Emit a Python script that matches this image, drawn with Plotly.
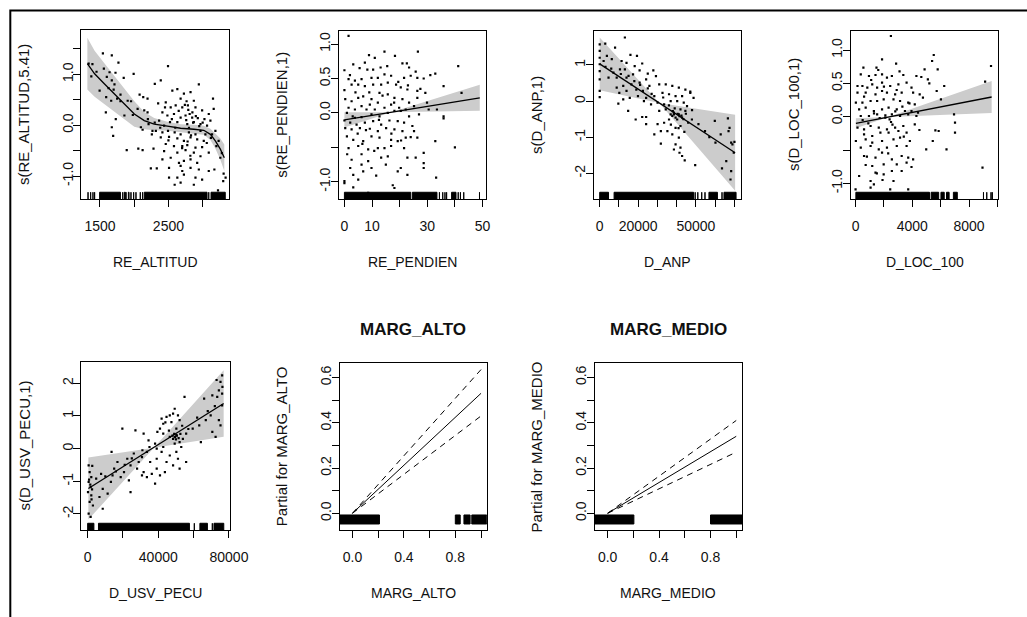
import plotly.graph_objects as go

W, H = 1027, 617

# ---------------- data ----------------
# RE_ALTITUD smooth (edf 5.41)
alt_x = [1543,1673,1770,1335,1374,1557,1640,1727,1992,1847,1673,1712,1495,1625,1591,1664,1751,1799,1905,1954,1586,1731,1673,1693,1857,2079,2132,2195,2147,2195,2098,2123,2210,2267,2258,1891,2060,2123,2282,
         2494,2388,2301,2557,2630,2726,2823,2944,3151,2678,2765,2871,2350,2461,2533,2606,2702,2784,2895,2992,3089,3161,2412,2485,2581,2678,2750,2847,2929,3026,3113,2364,2437,2523,2630,2775,2871,2968,3064,2316,2412,2494,2591,2678,2799,2895,2968,3040,2388,2509,2630,2726,2823,2920,3016,2461,2581,2702,2775,2895,2992,2437,2630,2750,2871,2968,3089,2412,2533,2654,2726,2823,2920,2243,2330,2509,2678,2702,2823,2944,3089,2509,2630,2726,2895,2992,3171,2591,2678,2871,3224,3306,3335,3258,3200,3233,3137,3186,
         2790,2810,2760,2800,2850,2830,2740,2860,2780,2900,2650,2600,2550,2950,3000,2700,2820,2500,2450,2380,2300,2200,2050,1980,1800,1700,1600,1450,1390,3060,3120,3280,3300]
alt_res = [1.41,1.37,1.23,1.21,0.96,1.11,1.04,1.03,1.01,0.93,0.88,0.80,0.68,0.73,0.55,0.48,0.52,0.47,0.48,0.47,0.25,0.12,-0.04,-0.21,0.19,0.60,0.55,0.52,0.29,0.25,-0.04,-0.09,0.02,-0.11,-0.18,-0.49,-0.46,-0.49,-0.46,
           1.16,0.88,0.81,0.68,0.71,0.62,0.65,0.80,0.52,0.52,0.47,0.48,0.43,0.45,0.35,0.39,0.35,0.39,0.35,0.29,0.22,0.32,0.25,0.19,0.22,0.15,0.19,0.15,0.14,0.12,0.09,0.09,-0.01,0.06,0.06,0.02,0.06,0.02,-0.01,-0.11,-0.14,-0.11,-0.14,-0.18,-0.14,-0.18,-0.11,-0.18,-0.24,-0.23,-0.26,-0.31,-0.24,-0.28,-0.31,-0.37,-0.41,-0.41,-0.39,-0.44,-0.43,-0.51,-0.54,-0.49,-0.54,-0.61,-0.54,-0.67,-0.64,-0.74,-0.70,-0.67,-0.74,-0.85,-0.85,-0.84,-0.80,-0.90,-0.84,-0.87,-0.90,-1.03,-1.03,-0.97,-1.03,-1.07,-0.87,-1.17,-1.13,-1.17,-1.28,-0.95,-1.03,-0.64,-0.41,-0.31,-0.18,-0.11,
           0.30,0.22,0.10,-0.05,0.25,-0.20,0.40,0.05,-0.32,0.18,0.28,-0.05,0.12,-0.02,0.05,-0.45,-0.60,-0.30,0.35,-0.05,0.05,0.12,0.32,0.20,0.60,0.70,0.95,1.05,1.20,-0.35,-0.25,-0.55,-1.10]
alt_grid = [1316,1422,1567,1712,1857,2002,2147,2292,2485,2678,2871,3016,3113,3185,3258,3316]
alt_fit = [1.21,1.01,0.81,0.62,0.42,0.22,0.09,0.02,-0.02,-0.06,-0.08,-0.10,-0.18,-0.31,-0.47,-0.64]
alt_upper = [1.72,1.46,1.21,0.97,0.72,0.47,0.26,0.14,0.07,0.02,0.01,-0.01,-0.07,-0.16,-0.26,-0.38]
alt_lower = [0.70,0.56,0.41,0.27,0.12,-0.03,-0.08,-0.10,-0.11,-0.14,-0.17,-0.19,-0.29,-0.46,-0.68,-0.90]
alt_rug = [[1326,1326],[1364,1364],[1398,1398],[1422,1422],[1495,1799],[1833,1833],[1857,1870],[1881,1881],[1915,1925],[1953,1953],[1992,1992],[2026,2026],[2089,2089],[2123,2123],[2147,3064],[3089,3089],[3122,3330]]

# RE_PENDIEN smooth (edf 1)
pend_x = [1.5,14.5,26.6,8.9,18.3,21.0,22.6,7.4,3.2,8.3,10.4,13.1,15.5,23.4,25.8,41.2,32.9,31.1,0.0,1.5,3.8,6.2,9.8,12.1,14.5,16.9,21.6,24.0,26.4,28.7,0.0,2.6,5.0,7.4,10.4,13.3,15.7,18.7,20.4,22.8,26.4,29.3,35.9,42.4,0.3,2.6,5.0,6.8,9.8,12.7,15.7,18.1,21.0,23.4,26.4,29.9,1.5,3.8,6.2,9.2,12.1,14.5,16.9,19.8,22.2,25.2,33.5,0.9,3.8,6.2,9.8,12.7,15.7,18.1,20.4,23.4,27.0,35.9,0.0,2.1,4.4,7.4,10.4,13.3,16.3,19.3,21.6,24.6,35.9,0.3,2.6,5.6,9.2,12.1,15.1,18.1,21.0,25.2,0.9,3.2,6.8,9.8,12.7,16.9,19.3,22.2,26.4,32.9,1.5,5.0,8.6,12.1,14.5,16.9,21.6,28.7,40.0,2.6,6.2,8.6,13.3,15.7,22.8,25.8,2.1,6.2,9.8,28.7,20.4,3.2,6.8,11.5,19.3,22.8,28.7,33.2,0.0,5.0,3.2,17.5,18.1,8.6,0.0,
          4.0,11.0,17.0,7.8,13.8,19.5,2.0,5.5,10.8,24.0,27.5,30.5,1.0,4.8,15.0,11.0,8.0,3.0,18.0,20.5,12.5,23.0,9.0,6.5]
pend_res = [1.12,0.89,0.89,0.84,0.83,0.72,0.72,0.73,0.705,0.63,0.63,0.66,0.68,0.66,0.60,0.68,0.57,0.55,0.62,0.49,0.47,0.49,0.51,0.51,0.56,0.54,0.51,0.54,0.51,0.50,0.33,0.41,0.41,0.39,0.41,0.41,0.44,0.41,0.37,0.34,0.32,0.29,0.39,0.29,0.20,0.17,0.22,0.24,0.20,0.29,0.27,0.22,0.20,0.15,0.22,0.15,0.075,0.05,0.10,0.12,0.15,0.075,0.12,0.075,0.05,0.10,0.05,0.0,-0.07,-0.06,-0.02,-0.05,0.0,0.03,0.03,-0.05,-0.02,-0.05,-0.11,-0.14,-0.17,-0.14,-0.12,-0.17,-0.11,-0.12,-0.14,-0.19,-0.08,-0.22,-0.24,-0.22,-0.23,-0.265,-0.22,-0.24,-0.265,-0.265,-0.34,-0.39,-0.41,-0.34,-0.36,-0.39,-0.41,-0.36,-0.36,-0.41,-0.51,-0.48,-0.53,-0.51,-0.51,-0.48,-0.51,-0.58,-0.50,-0.68,-0.60,-0.70,-0.65,-0.63,-0.65,-0.65,-0.80,-0.75,-0.80,-0.73,-0.80,-0.90,-0.85,-0.91,-0.85,-0.90,-0.80,-0.94,-0.99,-0.97,-1.08,-1.05,-1.09,-1.16,-1.02,
            0.30,0.05,-0.30,-0.25,0.25,0.45,0.55,0.65,-0.55,-0.35,0.35,0.05,-0.60,-0.30,-0.75,0.80,0.05,-0.05,0.15,-0.40,-0.10,0.40,0.30,-0.45]
pend_grid = [0, 17, 49]
pend_fit = [-0.10, 0.01, 0.22]
pend_upper = [0.01, 0.01, 0.41]
pend_lower = [-0.21, 0.01, 0.03]
pend_rug = [[0,24.0],[24.6,33.5],[34.4,34.4],[35.6,35.6],[36.4,36.4],[37.0,37.0],[38.8,40.4],[41.2,41.2],[42.0,42.0],[43.2,43.2],[48.9,48.9]]

# D_ANP smooth (edf 1)
anp_x = [13090,0,0,0,0,0,0,0,0,2890,7990,3740,2040,6290,11390,13940,15980,19380,22100,18190,10540,13090,7140,4590,8840,13940,17340,20740,24990,27880,29240,24140,20740,16490,12240,8840,10200,13940,19040,22440,25840,30940,34340,37740,41140,44540,47090,39440,42840,36040,32640,28390,24140,19890,15640,12240,9690,14790,18700,22100,24140,26690,30090,33490,36890,40290,43690,45390,30940,34340,38590,41990,44540,39440,42840,36040,33490,30090,24140,28390,31790,35190,39440,41990,37740,41140,39440,38590,41990,41480,42840,44200,31790,49640,47090,48790,59840,66640,67490,62900,60180,68340,70040,69700,65790,63580,68340,68000,66980,47940,51340,54740,37740,38590,40290,36890,41140,
         40500,41500,42500,39000,43500,44800,38000,36000,27000,25000,21000,18000,15000,11000,6000,3000,46000,48000,37000,44000,41000,23000,33000,57000,69000]
anp_res = [1.76,1.57,1.39,1.20,1.02,0.83,0.60,0.28,0.11,1.59,1.48,1.25,1.11,1.16,1.11,1.06,1.28,1.25,1.04,0.97,0.88,0.88,0.79,0.65,0.65,0.65,0.74,0.85,0.76,0.85,0.69,0.60,0.51,0.46,0.42,0.37,0.23,0.28,0.32,0.28,0.42,0.46,0.46,0.42,0.37,0.32,0.26,0.14,0.14,0.19,0.23,0.14,0.09,0.14,0.09,0.05,-0.07,-0.27,-0.51,-0.44,-0.44,-0.09,-0.04,-0.09,0.00,0.00,-0.04,-0.14,-0.27,-0.23,-0.32,-0.23,-0.27,-0.46,-0.46,-0.51,-0.60,-0.64,-0.64,-0.92,-0.83,-0.83,-0.74,-0.69,-0.92,-1.01,-1.20,-1.34,-1.29,-1.43,-1.52,-1.64,-1.18,-1.77,0.23,0.09,-0.55,-0.48,-0.74,-0.92,-1.15,-1.15,-1.13,-1.43,-1.66,-1.86,-1.94,-2.17,-0.83,-0.51,-0.64,-0.83,-0.41,-0.37,-0.51,-0.37,-0.37,
           -0.35,-0.42,-0.40,-0.20,-0.50,-0.35,-0.28,-0.12,0.20,0.35,0.45,0.55,0.70,0.75,0.90,0.95,-0.60,-0.25,-0.65,-0.85,-0.75,0.00,0.10,-1.00,-1.20]
anp_grid = [0, 31000, 70400]
anp_fit = [1.03, -0.05, -1.43]
anp_upper = [1.76, -0.05, -0.38]
anp_lower = [0.30, -0.05, -2.48]
anp_rug = [[0,4590],[7480,48790],[49640,49640],[51000,51000],[53040,53040],[54740,54740],[56780,61200],[63580,63580],[64600,70890]]

# D_LOC_100 smooth (edf 1)
loc_x = [2490,5512,1867,2859,5396,5789,4866,9549,552,1474,367,944,1405,1867,2213,2559,3366,4289,4635,5096,6250,9134,136,482,829,1175,1521,1867,2443,3020,3597,3943,136,713,1405,1867,2213,2789,3251,4058,4520,5719,21,482,1059,1521,1982,2674,3136,3712,4174,4750,6019,252,713,1290,1867,2328,2905,3482,3943,4404,6942,367,944,1521,2097,2559,3136,3712,4289,136,598,1059,1636,2213,2789,3366,4174,7011,598,1175,1751,2328,3020,3597,5627,5858,7011,21,713,1175,1867,2674,3136,3828,5443,367,1059,1636,2213,2905,3597,4981,6411,598,1405,1867,2559,3251,3712,4058,713,1175,1982,2905,3597,3943,8949,252,1405,1982,2559,3251,1059,1290,2674,3712,0,2443,1059,
         500,900,1300,1700,2100,2500,2400,2600,2800,3300,3800,600,1100,1600,2000,2900,3400,800,1500,2300,1900,4500,5200,3100]
loc_res = [1.21,0.925,0.86,0.795,0.835,0.71,0.71,0.76,0.735,0.735,0.635,0.61,0.625,0.635,0.585,0.61,0.625,0.61,0.595,0.56,0.46,0.525,0.46,0.46,0.435,0.485,0.435,0.51,0.46,0.485,0.51,0.435,0.36,0.36,0.335,0.385,0.36,0.335,0.36,0.36,0.335,0.385,0.21,0.21,0.235,0.235,0.26,0.26,0.235,0.21,0.185,0.285,0.26,0.11,0.135,0.085,0.11,0.135,0.11,0.085,0.085,0.06,0.035,0.01,0.01,0.035,-0.015,0.035,0.01,0.035,0.01,-0.165,-0.19,-0.14,-0.165,-0.19,-0.165,-0.14,-0.115,-0.09,-0.265,-0.29,-0.24,-0.24,-0.215,-0.24,-0.205,-0.215,-0.24,-0.365,-0.34,-0.39,-0.365,-0.34,-0.315,-0.365,-0.365,-0.465,-0.44,-0.49,-0.465,-0.44,-0.44,-0.49,-0.49,-0.59,-0.615,-0.54,-0.64,-0.59,-0.615,-0.64,-0.725,-0.74,-0.715,-0.715,-0.69,-0.755,-0.765,-0.89,-0.84,-0.865,-0.815,-0.815,-0.965,-1.015,-0.965,-1.09,-1.09,-1.09,-1.065,
           -0.05,-0.10,0.05,-0.02,0.02,-0.08,-0.04,-0.12,0.08,0.15,0.20,0.30,0.55,0.70,0.45,0.40,-0.30,-0.60,-0.85,-0.55,-0.95,-0.20,0.50,0.68]
loc_grid = [21, 2300, 9595]
loc_fit = [-0.10, -0.006, 0.295]
loc_upper = [-0.025, -0.006, 0.535]
loc_lower = [-0.175, -0.006, 0.055]
loc_rug = [[21,5212],[5327,5858],[6019,6250],[6411,6596],[6896,7173],[9018,9018],[9249,9249],[9549,9549],[9641,9641]]

# D_USV_PECU smooth (edf 1)
usv_x = [570,1130,2060,570,1690,200,2060,1130,2980,570,1690,2610,4830,7610,8540,6690,8540,11320,13170,14090,15020,13540,16870,18720,20580,22430,24280,23350,24280,26130,28910,30760,33540,27980,31690,35390,39100,41870,38170,34470,31690,27060,19650,42800,46500,50210,49280,52060,53910,55760,47430,44650,41870,49280,51130,52060,54840,39100,40950,43730,48360,51130,52060,44650,46500,42800,39100,36320,33540,38170,30760,55760,50210,52990,59470,63170,66880,69650,65950,70580,73360,76140,74280,75210,72430,70580,64100,46500,48360,42800,40950,39470,49280,50210,48360,76140,75210,74280,76140,73000,76300,
         49500,50500,51500,49000,50000,48000,52500,1500,2500,800,2200,10000,16000,21000,25000,31000,35000,44000,46000,53500,57000,62000,68000,72000]
usv_res = [-0.51,-0.72,-0.87,-1.02,-1.18,-1.33,-1.43,-1.63,-1.74,-1.99,-2.09,-0.53,-0.92,-0.77,-1.23,-1.48,-1.84,-1.38,-1.02,-0.82,-0.61,-0.10,-0.41,-0.87,-0.72,-0.31,-0.51,-0.97,-1.33,-0.15,-0.41,-0.26,-0.10,-0.61,-0.72,-0.41,-0.31,-0.10,0.15,0.25,0.46,0.56,0.61,0.46,0.36,0.61,0.15,0.20,0.30,0.46,0.81,0.97,0.92,1.22,1.02,0.87,1.58,-0.61,-0.82,-0.72,-0.51,-0.31,-0.61,-0.41,-0.21,0.05,0.0,-0.77,-0.87,-1.07,-0.82,-0.41,-0.10,0.05,0.61,0.71,0.87,1.02,1.53,1.63,1.58,1.68,0.87,0.71,0.36,0.51,0.20,1.02,1.07,0.76,0.61,0.51,0.36,0.41,0.30,2.24,2.04,1.78,1.32,2.10,1.89,
           0.35,0.40,0.32,0.45,0.28,0.40,0.45,-1.10,-1.25,-0.95,-1.55,-0.85,-0.70,-0.50,-0.30,-0.05,0.05,0.80,0.55,0.70,0.60,0.95,1.15,1.30]
usv_grid = [400, 37500, 77000]
usv_fit = [-1.22, 0.03, 1.38]
usv_upper = [-0.27, 0.03, 2.40]
usv_lower = [-2.17, 0.03, 0.36]
usv_rug = [[0,3540],[6130,57620],[60390,60390],[63540,67800],[70580,70580],[71510,77060]]

# Parametric terms
marg_x = [0, 1]
alto_fit = [0, 0.53]
alto_upper = [0, 0.635]
alto_lower = [0, 0.43]
alto_rug = [[-0.10,0.21],[0.80,0.838],[0.867,0.915],[0.928,1.045]]
medio_fit = [0, 0.34]
medio_upper = [0, 0.41]
medio_lower = [0, 0.27]
medio_rug = [[-0.10,0.204],[0.80,1.046]]

# ---------------- figure ----------------
FONT = "Liberation Sans, Arial, sans-serif"
TXT = "#111111"
fig = go.Figure()

smooth_panels = [
    dict(n=1, box=(83, 233, 30, 199), xr=[1230, 3380], yr=[-1.45, 1.87],
         xt=[1500, 2000, 2500, 3000], xtt=["1500", "", "2500", ""],
         yt=[-1, -0.5, 0, 0.5, 1, 1.5], ytt=["-1.0", "", "0.0", "", "1.0", ""],
         xlab="RE_ALTITUD", ylab="s(RE_ALTITUD,5.41)",
         px=alt_x, py=alt_res, g=alt_grid, f=alt_fit, u=alt_upper, l=alt_lower, rug=alt_rug),
    dict(n=2, box=(345, 495, 31, 199), xr=[-2.1, 51.2], yr=[-1.25, 1.19],
         xt=[0, 10, 20, 30, 40, 50], xtt=["0", "10", "", "30", "", "50"],
         yt=[-1, -0.5, 0, 0.5, 1], ytt=["-1.0", "", "0.0", "0.5", "1.0"],
         xlab="RE_PENDIEN", ylab="s(RE_PENDIEN,1)",
         px=pend_x, py=pend_res, g=pend_grid, f=pend_fit, u=pend_upper, l=pend_lower, rug=pend_rug),
    dict(n=3, box=(605, 755, 31, 199), xr=[-3060, 73470], yr=[-2.71, 1.94],
         xt=[0, 10000, 20000, 30000, 40000, 50000, 60000, 70000],
         xtt=["0", "", "20000", "", "", "50000", "", ""],
         yt=[-2, -1, 0, 1], ytt=["-2", "-1", "0", "1"],
         xlab="D_ANP", ylab="s(D_ANP,1)",
         px=anp_x, py=anp_res, g=anp_grid, f=anp_fit, u=anp_upper, l=anp_lower, rug=anp_rug),
    dict(n=4, box=(867, 1017, 31, 199), xr=[-325, 10055], yr=[-1.235, 1.285],
         xt=[0, 2000, 4000, 6000, 8000, 10000], xtt=["0", "", "4000", "", "8000", ""],
         yt=[-1, -0.5, 0, 0.5, 1], ytt=["-1.0", "", "0.0", "0.5", "1.0"],
         xlab="D_LOC_100", ylab="s(D_LOC_100,1)",
         px=loc_x, py=loc_res, g=loc_grid, f=loc_fit, u=loc_upper, l=loc_lower, rug=loc_rug),
    dict(n=5, box=(83, 234, 362, 530), xr=[-3500, 80400], yr=[-2.49, 2.65],
         xt=[0, 20000, 40000, 60000, 80000], xtt=["0", "", "40000", "", "80000"],
         yt=[-2, -1, 0, 1, 2], ytt=["-2", "-1", "0", "1", "2"],
         xlab="D_USV_PECU", ylab="s(D_USV_PECU,1)",
         px=usv_x, py=usv_res, g=usv_grid, f=usv_fit, u=usv_upper, l=usv_lower, rug=usv_rug),
]

param_panels = [
    dict(n=6, box=(346, 496, 363, 530), xr=[-0.10, 1.045], yr=[-0.074, 0.664],
         xt=[0, 0.2, 0.4, 0.6, 0.8, 1.0], xtt=["0.0", "", "0.4", "", "0.8", ""],
         yt=[0, 0.1, 0.2, 0.3, 0.4, 0.5, 0.6], ytt=["0.0", "", "0.2", "", "0.4", "", "0.6"],
         xlab="MARG_ALTO", ylab="Partial for MARG_ALTO", title="MARG_ALTO",
         f=alto_fit, u=alto_upper, l=alto_lower, rug=alto_rug),
    dict(n=7, box=(606, 756, 363, 530), xr=[-0.10, 1.045], yr=[-0.074, 0.664],
         xt=[0, 0.2, 0.4, 0.6, 0.8, 1.0], xtt=["0.0", "", "0.4", "", "0.8", ""],
         yt=[0, 0.1, 0.2, 0.3, 0.4, 0.5, 0.6], ytt=["0.0", "", "0.2", "", "0.4", "", "0.6"],
         xlab="MARG_MEDIO", ylab="Partial for MARG_MEDIO", title="MARG_MEDIO",
         f=medio_fit, u=medio_upper, l=medio_lower, rug=medio_rug),
]

shapes = []
annotations = []
layout_axes = {}


def setup_axes(p):
    n = p["n"]
    sfx = "" if n == 1 else str(n)
    x0, x1, y0, y1 = p["box"]
    common = dict(showline=True, mirror=True, linecolor="black", linewidth=1,
                  ticks="outside", ticklen=7, tickcolor="black", tickwidth=1,
                  showgrid=False, zeroline=False, tickmode="array",
                  tickfont=dict(family=FONT, size=14, color=TXT), fixedrange=True)
    layout_axes["xaxis" + sfx] = dict(common, domain=[x0 / W, x1 / W], range=p["xr"],
                                      tickvals=p["xt"], ticktext=p["xtt"],
                                      anchor="y" + sfx, ticklabelstandoff=7)
    layout_axes["yaxis" + sfx] = dict(common, domain=[1 - y1 / H, 1 - y0 / H], range=p["yr"],
                                      tickvals=p["yt"], ticktext=p["ytt"],
                                      anchor="x" + sfx, tickangle=-90, ticklabelstandoff=-5)
    xc = (x0 + x1) / 2 / W
    annotations.append(dict(text=p["xlab"], x=xc, y=1 - (y1 + 63) / H, xref="paper", yref="paper",
                            showarrow=False, xanchor="center", yanchor="middle",
                            font=dict(family=FONT, size=14, color=TXT)))
    annotations.append(dict(text=p["ylab"], x=(x0 - 59) / W, y=1 - (y0 + y1) / 2 / H,
                            xref="paper", yref="paper", textangle=-90,
                            showarrow=False, xanchor="center", yanchor="middle",
                            font=dict(family=FONT, size=15, color=TXT)))
    return "x" + sfx, "y" + sfx


for p in smooth_panels:
    xa, ya = setup_axes(p)
    g = p["g"]
    fig.add_trace(go.Scatter(x=g + g[::-1], y=p["u"] + p["l"][::-1], xaxis=xa, yaxis=ya,
                             fill="toself", fillcolor="#CCCCCC", line=dict(width=0),
                             mode="lines", hoverinfo="skip", showlegend=False))
    fig.add_trace(go.Scatter(x=p["px"], y=p["py"], xaxis=xa, yaxis=ya, mode="markers",
                             marker=dict(symbol="square", size=2.2, color="black", line=dict(width=0)),
                             showlegend=False))
    fig.add_trace(go.Scatter(x=g, y=p["f"], xaxis=xa, yaxis=ya, mode="lines",
                             line=dict(color="black", width=1.3), showlegend=False))
    for a, b in p["rug"]:
        shapes.append(dict(type="rect", xref=xa, yref=ya + " domain", x0=a, x1=b, y0=0, y1=0.04,
                           fillcolor="black", line=dict(color="black", width=1), layer="above"))

for p in param_panels:
    xa, ya = setup_axes(p)
    fig.add_trace(go.Scatter(x=marg_x, y=p["f"], xaxis=xa, yaxis=ya, mode="lines",
                             line=dict(color="black", width=1), showlegend=False))
    for key in ("u", "l"):
        fig.add_trace(go.Scatter(x=marg_x, y=p[key], xaxis=xa, yaxis=ya, mode="lines",
                                 line=dict(color="black", width=1, dash="6px,5px"), showlegend=False))
    for a, b in p["rug"]:
        shapes.append(dict(type="rect", xref=xa, yref=ya + " domain", x0=a, x1=b, y0=0.036, y1=0.09,
                           fillcolor="black", line=dict(color="black", width=1), layer="above"))
    x0, x1, y0, y1 = p["box"]
    annotations.append(dict(text="<b>" + p["title"] + "</b>", x=(x0 + x1) / 2 / W, y=1 - 329 / H,
                            xref="paper", yref="paper", showarrow=False,
                            xanchor="center", yanchor="middle",
                            font=dict(family=FONT, size=17, color=TXT)))

# outer frame of the figure window
shapes.append(dict(type="rect", xref="paper", yref="paper", x0=10.5 / W, y0=1 - 10.5 / H,
                   x1=1.05, y1=-0.05, line=dict(color="black", width=2), fillcolor="rgba(0,0,0,0)"))

fig.update_layout(width=W, height=H, margin=dict(l=0, r=0, t=0, b=0), autosize=False,
                  paper_bgcolor="white", plot_bgcolor="white", showlegend=False,
                  shapes=shapes, annotations=annotations, **layout_axes)

fig.write_html("out.html", config={"displayModeBar": False},
               post_script="document.body.style.margin='0px';document.body.style.overflow='hidden';")
